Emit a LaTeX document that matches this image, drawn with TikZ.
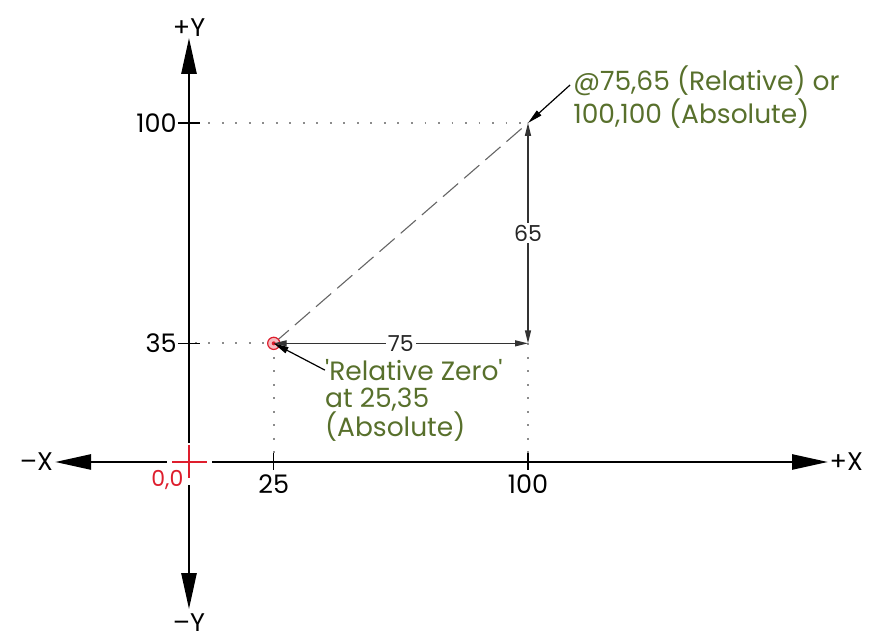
\documentclass[tikz,border=0pt]{standalone}
\usepackage{fontspec}
\setmainfont{Poppins}
\usetikzlibrary{arrows.meta}
\definecolor{cadgreen}{RGB}{88,112,44}
\definecolor{cadred}{RGB}{222,30,45}
\newcommand{\bigtxt}{\fontsize{26.5}{26.5}\selectfont}
\newcommand{\midtxt}{\fontsize{25.5}{26}\selectfont}
\newcommand{\smalltxt}{\fontsize{22}{22}\selectfont}
\begin{document}
\begin{tikzpicture}[x=3.39pt,y=3.39pt,>={Triangle[length=13pt,width=6pt]},
  axis/.style={line width=2.6pt,{Triangle[length=36pt,width=15pt]}-{Triangle[length=36pt,width=15pt]}},
  tick/.style={line width=1.2pt},
  dots/.style={black!45,line width=1.8pt,dash pattern=on 1.8pt off 11.7pt},
  dim/.style={line width=1.4pt,black!80,<->},
  dimlbl/.style={fill=white,inner sep=2pt,font=\smalltxt,text=black!85},
  leader/.style={line width=1.2pt,-{Triangle[length=15pt,width=6.5pt]}},
  note/.style={align=left,inner sep=0pt,font=\bigtxt,text=cadgreen},
  lbl/.style={inner sep=0pt,font=\midtxt}]
  \useasboundingbox (-55.75,-52.2) rectangle (202.36,136.28);

  \coordinate (O) at (0,0);
  \coordinate (R) at (25,35);
  \coordinate (P) at (100,100);
  \coordinate (Q) at (100,35);
  \coordinate (Xl) at (-39.5,0);
  \coordinate (Xr) at (188.5,0);
  \coordinate (Yb) at (0,-43.4);
  \coordinate (Yt) at (0,125.1);
  \coordinate (R0) at (0,35);
  \coordinate (P0) at (0,100);
  \coordinate (Rx) at (25,0);
  \coordinate (Qx) at (100,0);

  % punktierte Hilfslinien
  \draw[dots] ([xshift=6pt]P0) -- (P);
  \draw[dots] ([xshift=6pt]R0) -- (R);
  \draw[dots] (R) -- ([yshift=8pt]Rx);
  \draw[dots] (Q) -- ([yshift=8pt]Qx);

  % Achsen
  \draw[axis] (Xl) -- (Xr);
  \draw[axis] (Yb) -- (Yt);

  % Teilstriche
  \draw[tick] (-3.3,100) -- (3.3,100);
  \draw[tick] (-3.3,35) -- (3.3,35);
  \draw[tick] (25,2.7) -- (25,-2.4);
  \draw[tick] (100,2.7) -- (100,-2.4);

  % Ursprung
  \fill[white] (-6.5,-6.8) rectangle (6.8,5.6);
  \draw[cadred,line width=2.2pt] (-5,0) -- (5.3,0);
  \draw[cadred,line width=2.2pt] (0,5) -- (0,-4.7);
  \node[lbl,font=\smalltxt,text=cadred,anchor=east] (orig) at (-1.6,-5.3) {0,0};

  % Strichlinie
  \draw[black!60,line width=1.1pt,dash pattern=on 20pt off 8pt] (R) -- (P);

  % relativer Nullpunkt
  \draw[cadred,fill=cadred!30,line width=1.2pt] (R) circle (1.8);
  \fill[cadred] (R) circle (0.6);

  % Bemassung
  \draw[dim] (R) -- node[dimlbl] (t75) {75} (Q);
  \draw[dim] (Q) -- node[dimlbl] (t65) {65} (P);

  % Achsbeschriftung
  \node[lbl,anchor=west,inner sep=1.5pt] (px) at (Xr) {+X};
  \node[lbl,anchor=east,inner sep=2pt] (mx) at (Xl) {\textendash X};
  \node[lbl,anchor=south,inner sep=1.5pt] (py) at (Yt) {+Y};
  \node[lbl,anchor=base] (my) at (0,-49.9) {\textendash Y};
  \node[lbl,anchor=east] (y100) at (-3.6,100) {100};
  \node[lbl,anchor=east] (y35) at (-3.6,35) {35};
  \node[lbl,anchor=north] (x25) at (25,-3.8) {25};
  \node[lbl,anchor=north] (x100) at (100,-3.8) {100};

  % Hinweise
  \node[note,anchor=north west] (ptxt) at (113.3,116.8) {@75,65 (Relative) or\\[1pt]100,100 (Absolute)};
  \coordinate (pl) at (112.4,111.2);
  \draw[leader] (pl) -- (P);
  \node[note,anchor=north west] (rtxt) at (40.1,30.3) {\textquotesingle Relative Zero\textquotesingle\\at 25,35\\(Absolute)};
  \coordinate (rl) at (40.1,27.1);
  \draw[leader] (rl) -- (R);
\end{tikzpicture}
\end{document}
